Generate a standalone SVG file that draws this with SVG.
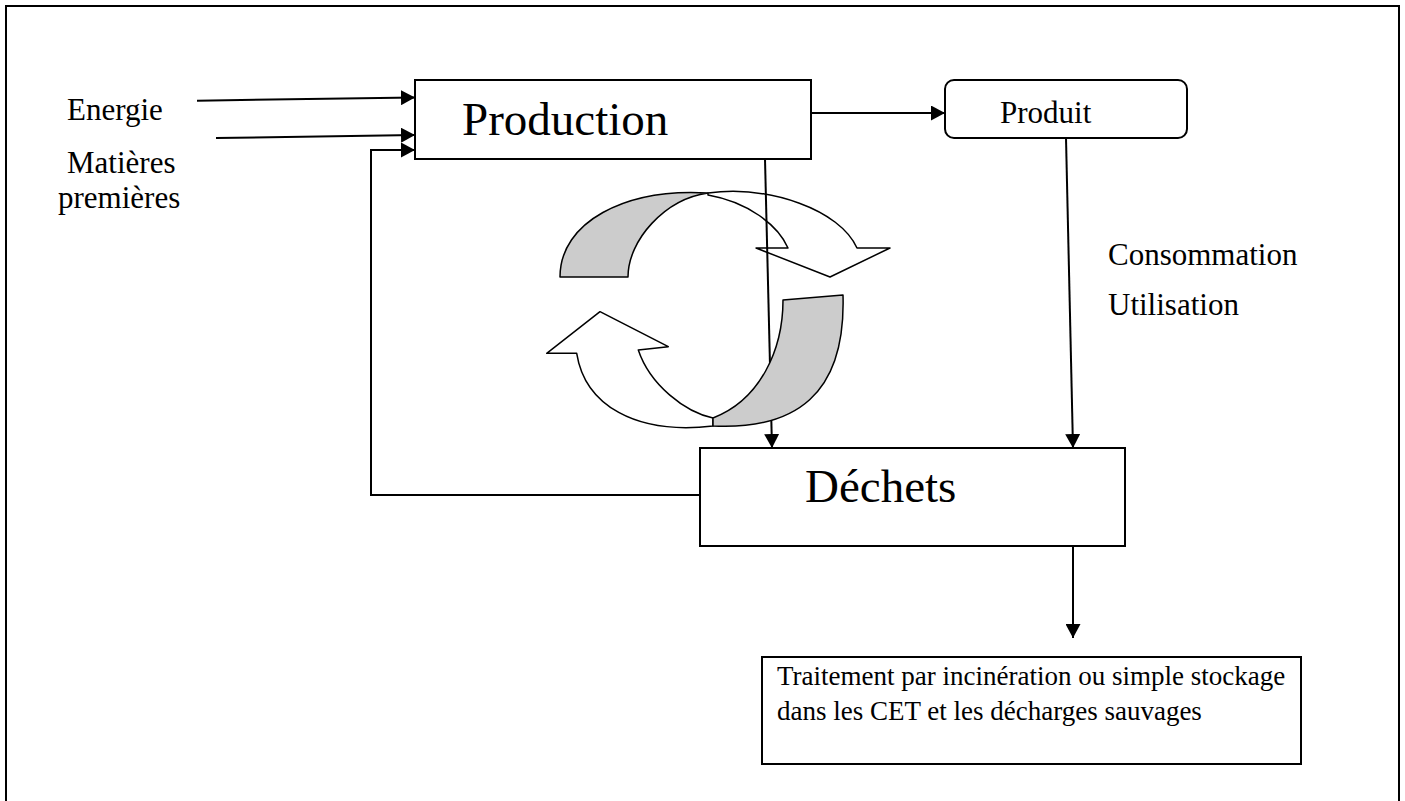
<svg xmlns="http://www.w3.org/2000/svg" width="1405" height="801" viewBox="0 0 1405 801">
  <style>
    .box { fill: #ffffff; stroke: #000000; stroke-width: 2; }
    .lbl { font-family: "Liberation Serif", "Times New Roman", serif; fill: #000000; }
    .wire { fill: none; stroke: #000000; stroke-width: 2; }
    .arr { stroke: #000000; stroke-width: 1.5; stroke-linejoin: round; }
    .back { fill: #cccccc; }
    .front { fill: #ffffff; }
  </style>
  <defs>
    <marker id="head" markerUnits="userSpaceOnUse" markerWidth="15" markerHeight="15" refX="14" refY="7.5" orient="auto">
      <path d="M0,0 L14,7.5 L0,15 Z" fill="#000000"/>
    </marker>
  </defs>

  <rect width="1405" height="801" fill="#ffffff"/>
  <!-- page frame -->
  <path d="M6,801 V6 H1399 V801" fill="none" stroke="#000000" stroke-width="2"/>

  <!-- inputs -->
  <g id="labels-inputs">
    <text class="lbl" x="67" y="120" font-size="31">Energie</text>
    <text class="lbl" x="67" y="173" font-size="31">Matières</text>
    <text class="lbl" x="58" y="208" font-size="31">premières</text>
  </g>

  <g id="production">
    <rect class="box" x="415" y="80" width="396" height="79"/>
    <text class="lbl" x="462" y="135" font-size="47">Production</text>
  </g>

  <g id="produit">
    <rect class="box" x="945" y="80" width="242" height="58" rx="9" ry="9"/>
    <text class="lbl" x="1000" y="123" font-size="31">Produit</text>
  </g>

  <g id="consommation">
    <text class="lbl" x="1108" y="265" font-size="31">Consommation</text>
    <text class="lbl" x="1108" y="315" font-size="31">Utilisation</text>
  </g>

  <!-- recycling loop, upper half (behind the waste line) -->
  <g id="cycle-top">
    <path class="arr back" d="M560,277 C560,222 625,188 708,193 C665,199 628,240 628,277 Z"/>
    <path class="arr front" d="M708,193 C770,185 840,210 857,248 L890,248 L830,277 L756,248 L788,248 C778,225 748,202 708,195 Z"/>
  </g>

  <g id="connectors">
    <path class="wire" d="M197,100.7 L415,97.5" marker-end="url(#head)"/>
    <path class="wire" d="M216,138 L415,135" marker-end="url(#head)"/>
    <path class="wire" d="M700,495 H371 V150 H415" marker-end="url(#head)"/>
    <path class="wire" d="M811,113 H945" marker-end="url(#head)"/>
    <path class="wire" d="M765,159 L772,448" marker-end="url(#head)"/>
    <path class="wire" d="M1066,138 L1073,448" marker-end="url(#head)"/>
    <path class="wire" d="M1073,546 V638" marker-end="url(#head)"/>
  </g>

  <!-- recycling loop, lower half (in front of the waste line) -->
  <g id="cycle-bottom">
    <path class="arr front" d="M576.7,353.3 C585,405 635,435 713,426 L713,418 C685,412 650,385 638.3,350 L668.3,346.7 L600,311.7 L546.7,353.3 Z"/>
    <path class="arr back" d="M713,426 C795,430 846,395 843,295 L783,300 C783,350 760,400 713,418 Z"/>
  </g>

  <g id="dechets">
    <rect class="box" x="700" y="448" width="425" height="98" stroke-width="2.5"/>
    <text class="lbl" x="805" y="502" font-size="47">Déchets</text>
  </g>

  <g id="traitement">
    <rect class="box" x="762" y="657" width="539" height="107" stroke-width="3"/>
    <text class="lbl" x="777" y="685" font-size="27">Traitement par incinération ou simple stockage</text>
    <text class="lbl" x="777" y="720" font-size="27">dans les CET et les décharges sauvages</text>
  </g>
</svg>
